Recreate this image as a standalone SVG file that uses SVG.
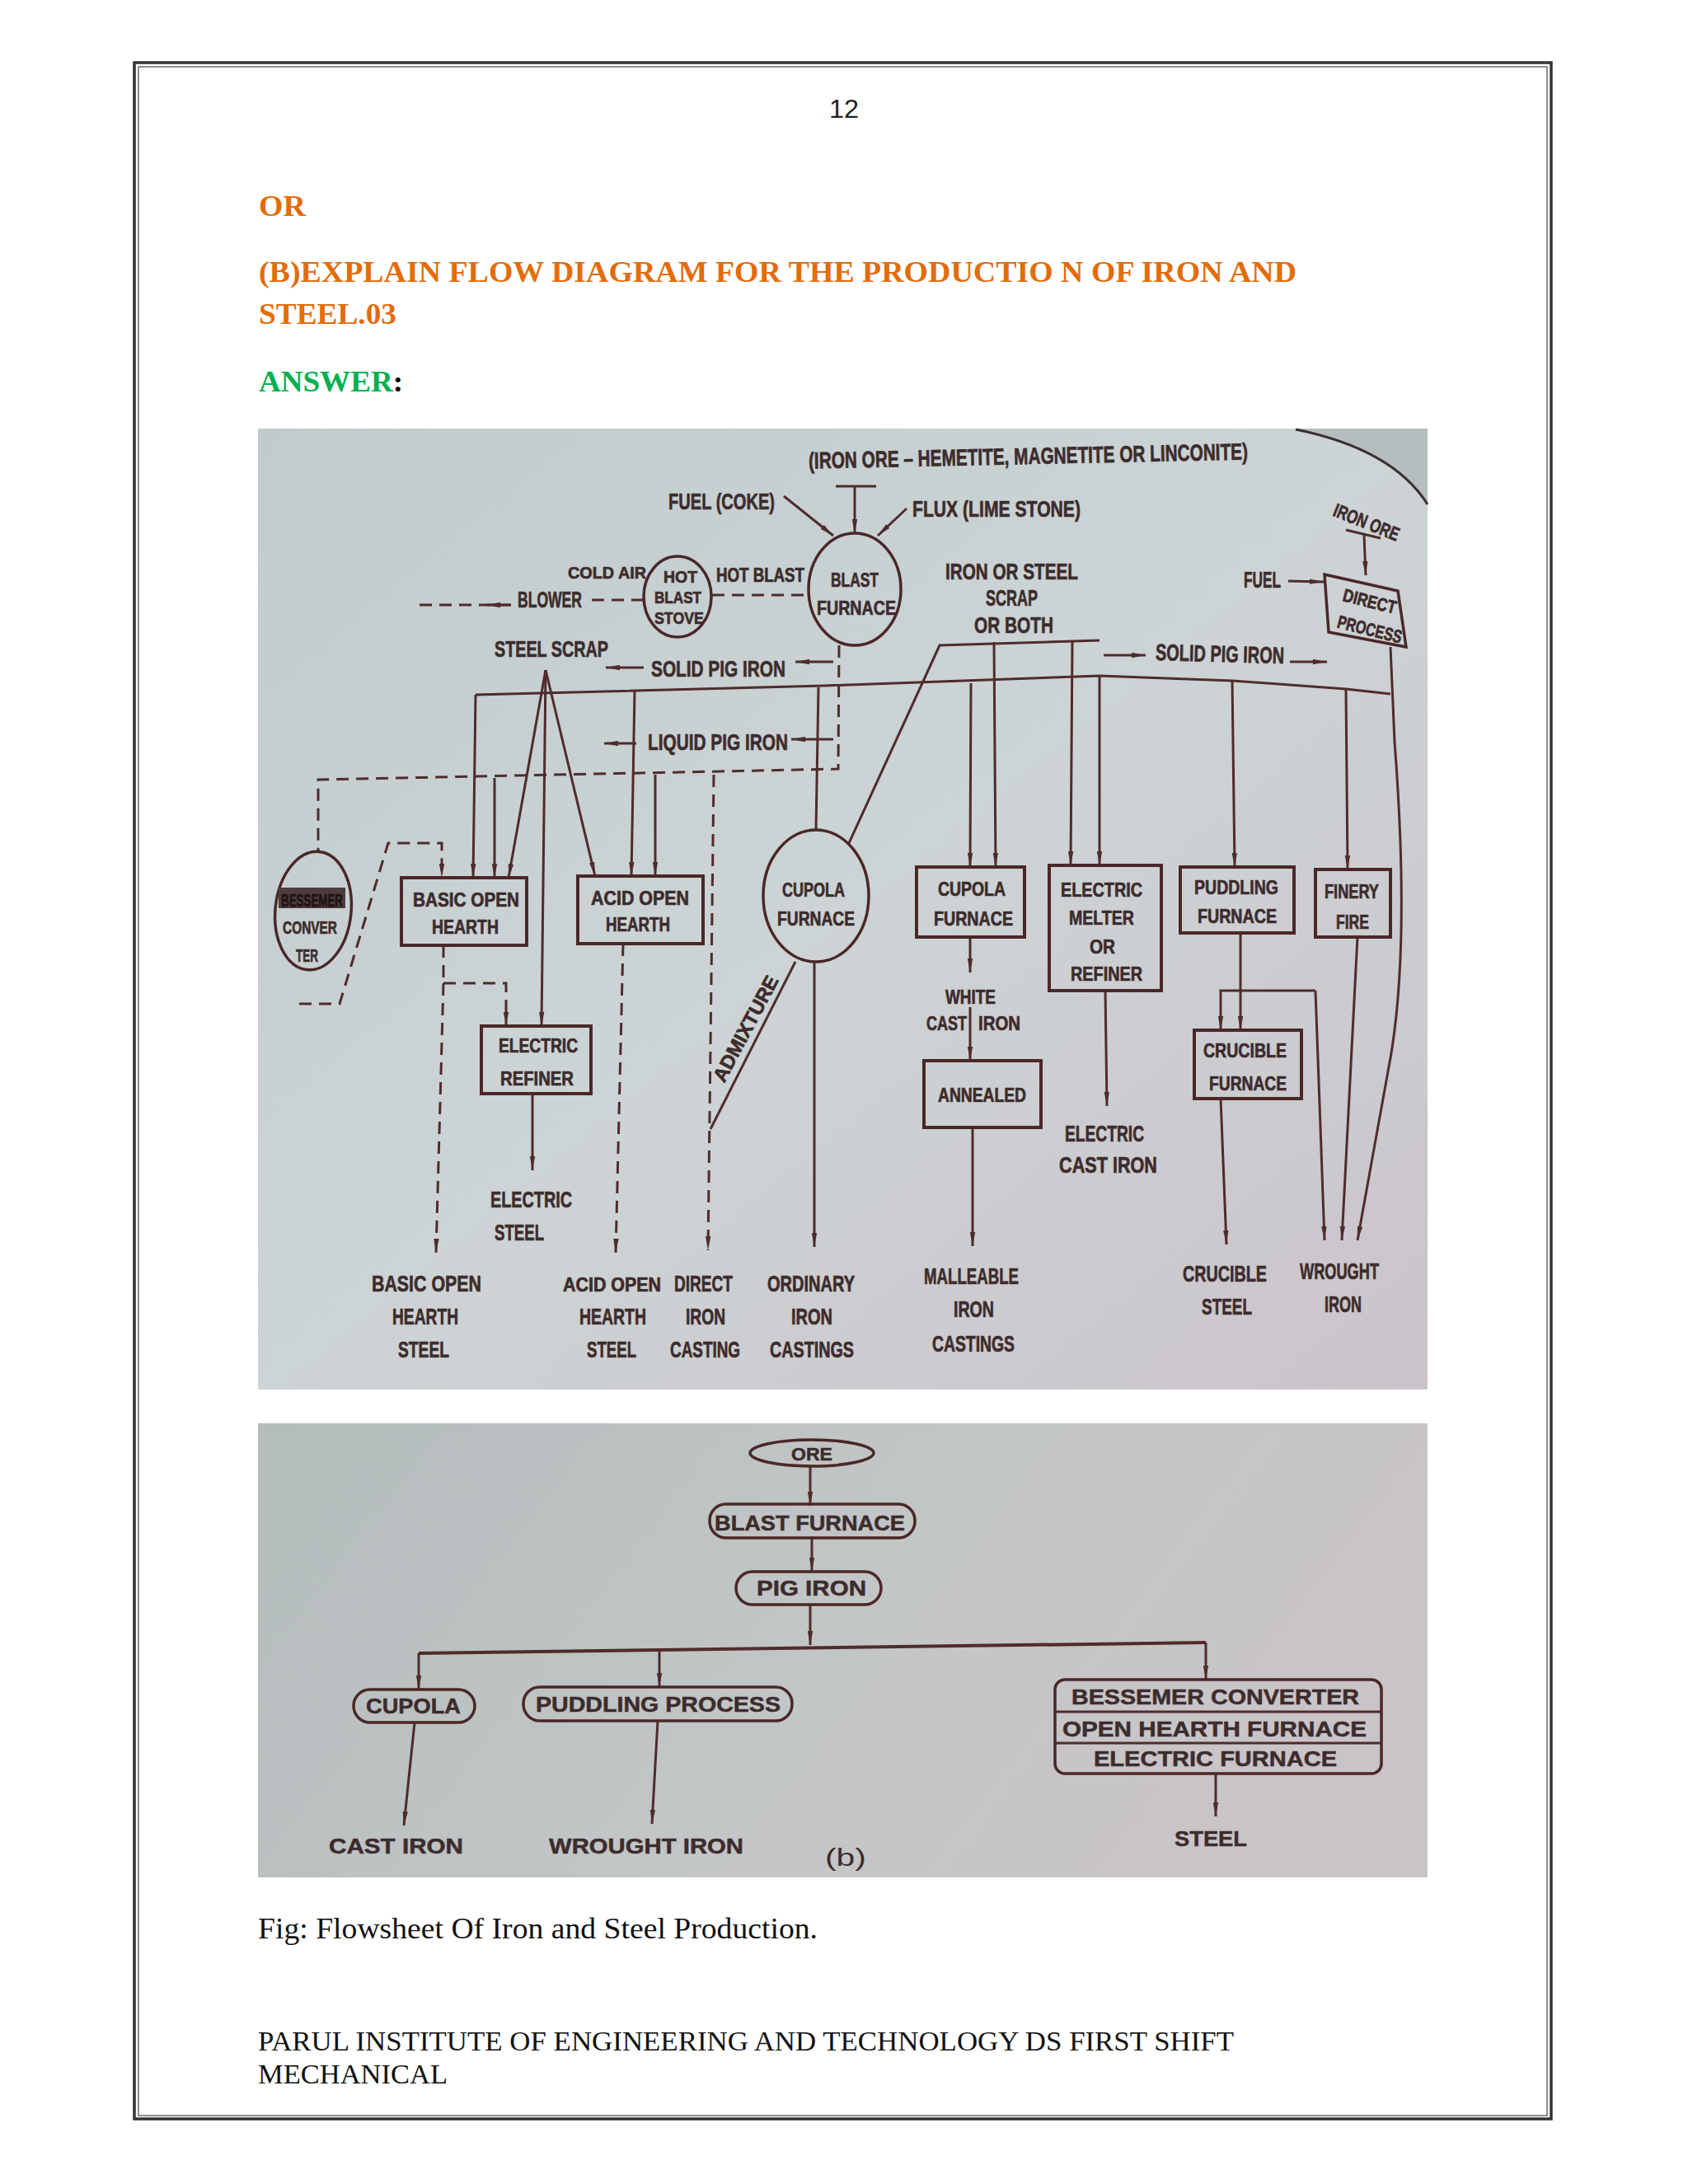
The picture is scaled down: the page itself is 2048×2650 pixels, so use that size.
<svg xmlns="http://www.w3.org/2000/svg" width="2048" height="2650" viewBox="0 0 2048 2650">
<defs>
<linearGradient id="bg1" x1="0" y1="0" x2="1" y2="1">
<stop offset="0" stop-color="#c0cbcd"/><stop offset="0.5" stop-color="#cdd4d5"/><stop offset="1" stop-color="#cbc4ca"/>
</linearGradient>
<linearGradient id="bg2" x1="0" y1="0" x2="1" y2="0.3">
<stop offset="0" stop-color="#b4bcbc"/><stop offset="0.6" stop-color="#c3c6c7"/><stop offset="1" stop-color="#c9c4c8"/>
</linearGradient>
<marker id="ah" viewBox="0 0 16 6" refX="16" refY="3" markerWidth="17" markerHeight="7" markerUnits="userSpaceOnUse" orient="auto">
<path d="M0,0 L16,3 L0,6 z" fill="#4f2c2c"/>
</marker>
<style>
.pg{font-family:"Liberation Serif","Times New Roman",serif;}
.hd{font-weight:bold;fill:#E36C09;font-size:36px;}
.t{font-family:"Liberation Sans",Arial,sans-serif;font-weight:bold;font-size:28px;fill:#3d2c2c;stroke:#3d2c2c;stroke-width:0.7;}
.s{font-size:24px;}
.b{font-family:"Liberation Sans",Arial,sans-serif;font-weight:bold;font-size:26px;fill:#3d2c2c;stroke:#3d2c2c;stroke-width:0.5;}
.ln{fill:none;stroke:#4f2c2c;stroke-width:3;}
.ar{marker-end:url(#ah);}
.da{stroke-dasharray:15 9;}
.bx{fill:none;stroke:#4a2828;stroke-width:4;}
.bx2{fill:none;stroke:#4a2828;stroke-width:3.5;}
</style>
</defs>
<rect width="2048" height="2650" fill="#ffffff"/>
<rect x="163" y="76" width="1719" height="2495" fill="none" stroke="#333" stroke-width="3.5"/>
<rect x="168" y="81" width="1709" height="2486" fill="none" stroke="#444" stroke-width="1.2"/>
<text x="1006" y="143" font-family="Liberation Sans,Arial,sans-serif" font-size="32" textLength="36" lengthAdjust="spacingAndGlyphs" fill="#222">12</text>
<text class="pg hd" x="314" y="262" textLength="57" lengthAdjust="spacingAndGlyphs">OR</text>
<text class="pg hd" x="314" y="342" textLength="1259" lengthAdjust="spacingAndGlyphs">(B)EXPLAIN FLOW DIAGRAM FOR THE PRODUCTIO N OF IRON AND</text>
<text class="pg hd" x="314" y="393" textLength="167" lengthAdjust="spacingAndGlyphs">STEEL.03</text>
<text class="pg" x="314" y="475" font-size="36" font-weight="bold" textLength="175" lengthAdjust="spacingAndGlyphs"><tspan fill="#00B050">ANSWER</tspan><tspan fill="#000">:</tspan></text>

<!-- top photo -->
<rect x="313" y="520" width="1419" height="1166" fill="url(#bg1)"/>
<path d="M1572,520 Q1690,543 1732,612 V520 z" fill="#b6bdbf"/>
<path d="M1572,521 Q1690,545 1732,612" fill="none" stroke="#3a3030" stroke-width="3"/>

<g id="connectors">
<path class="ln" d="M1014,590 H1063"/>
<path class="ln ar" d="M1037,590 V647"/>
<path class="ln ar" d="M951,602 L1011,650"/>
<path class="ln ar" d="M1100,617 L1065,650"/>
<path class="ln ar" d="M1563,705 L1606,706"/>
<path class="ln" d="M1633,643 L1675,653"/>
<path class="ln ar" d="M1655,649 L1657,698"/>
<path class="ln da" d="M864,722 H981"/>
<path class="ln da" d="M781,728 H712"/>
<path class="ln da" d="M620,734 H506"/>
<path class="ln ar" d="M620,734 L590,734"/>
<path class="ln da" d="M1018,783 L1017,933 L386,946 L386,1032"/>
<path class="ln ar" d="M781,810 H735"/>
<path class="ln ar" d="M1011,803 H965"/>
<path class="ln ar" d="M772,902 H733"/>
<path class="ln ar" d="M1011,897 H960"/>
<path class="ln" d="M577,843 L1000,832 L1334,820 L1495,826 L1633,836 L1687,842"/>
<path class="ln ar" d="M577,843 L574,1065"/>
<path class="ln ar" d="M662,813 L617,1065"/>
<path class="ln ar" d="M662,813 L657,1245"/>
<path class="ln ar" d="M662,813 L722,1063"/>
<path class="ln ar" d="M600,944 V1065"/>
<path class="ln ar" d="M770,838 L766,1063"/>
<path class="ln ar" d="M795,940 V1063"/>
<path class="ln da ar" d="M363,1218 H412 L471,1023 H536 V1065"/>
<path class="ln da" d="M538,1147 V1193"/>
<path class="ln da ar" d="M538,1193 H614 V1245"/>
<path class="ln da ar" d="M538,1193 L529,1520"/>
<path class="ln ar" d="M646,1327 V1420"/>
<path class="ln da ar" d="M756,1145 L747,1520"/>
<path class="ln da ar" d="M866,940 L859,1517"/>
<path class="ln" d="M965,1167 L862,1370"/>
<path class="ln" d="M993,834 L990,1007"/>
<path class="ln ar" d="M988,1167 V1513"/>
<path class="ln" d="M1030,1023 L1140,783 L1334,777"/>
<path class="ln ar" d="M1178,829 L1177,1052"/>
<path class="ln ar" d="M1206,779 L1208,1052"/>
<path class="ln ar" d="M1301,778 L1299,1050"/>
<path class="ln ar" d="M1334,820 V1050"/>
<path class="ln ar" d="M1495,826 L1498,1052"/>
<path class="ln ar" d="M1633,836 L1635,1055"/>
<path class="ln ar" d="M1687,785 L1692,900 Q1712,1160 1684,1300 L1647,1505"/>
<path class="ln ar" d="M1339,795 H1390"/>
<path class="ln ar" d="M1565,803 H1610"/>
<path class="ln ar" d="M1177,1137 V1180"/>
<path class="ln ar" d="M1177,1222 V1287"/>
<path class="ln ar" d="M1180,1368 V1512"/>
<path class="ln ar" d="M1341,1202 L1343,1342"/>
<path class="ln ar" d="M1505,1132 V1250"/>
<path class="ln ar" d="M1596,1202 H1481 V1250"/>
<path class="ln ar" d="M1596,1202 L1607,1505"/>
<path class="ln ar" d="M1647,1137 L1628,1505"/>
<path class="ln ar" d="M1481,1333 L1488,1510"/>
</g>

<g id="iron-ore-label"><text class="t" x="981" y="563" textLength="533" lengthAdjust="spacingAndGlyphs" transform="rotate(-1.2 1250 556)">(IRON ORE – HEMETITE, MAGNETITE OR LINCONITE)</text></g>
<g id="fuel-coke"><text class="t" x="811" y="618" textLength="129" lengthAdjust="spacingAndGlyphs">FUEL (COKE)</text></g>
<g id="flux"><text class="t" x="1107" y="627" textLength="204" lengthAdjust="spacingAndGlyphs">FLUX (LIME STONE)</text></g>
<g id="blast-furnace">
<ellipse cx="1037" cy="715" rx="56" ry="68" class="bx2"/>
<text class="t s" x="1008" y="712" textLength="58" lengthAdjust="spacingAndGlyphs">BLAST</text>
<text class="t s" x="991" y="746" textLength="96" lengthAdjust="spacingAndGlyphs">FURNACE</text>
</g>
<g id="cold-air"><text class="t" style="font-size:21px" x="689" y="702" textLength="95" lengthAdjust="spacingAndGlyphs">COLD AIR</text></g>
<g id="hot-blast-stove">
<ellipse cx="822" cy="724" rx="41" ry="49" class="bx2"/>
<text class="t" style="font-size:21px" x="805" y="707" textLength="41" lengthAdjust="spacingAndGlyphs">HOT</text>
<text class="t" style="font-size:21px" x="794" y="732" textLength="57" lengthAdjust="spacingAndGlyphs">BLAST</text>
<text class="t" style="font-size:21px" x="794" y="757" textLength="60" lengthAdjust="spacingAndGlyphs">STOVE</text>
</g>
<g id="hot-blast"><text class="t" style="font-size:23px" x="869" y="706" textLength="107" lengthAdjust="spacingAndGlyphs">HOT BLAST</text></g>
<g id="blower"><text class="t" x="628" y="737" textLength="78" lengthAdjust="spacingAndGlyphs">BLOWER</text></g>
<g id="steel-scrap"><text class="t" x="600" y="797" textLength="138" lengthAdjust="spacingAndGlyphs">STEEL SCRAP</text></g>
<g id="solid-pig-iron-left"><text class="t" x="790" y="821" textLength="163" lengthAdjust="spacingAndGlyphs">SOLID PIG IRON</text></g>
<g id="liquid-pig-iron"><text class="t" x="786" y="910" textLength="170" lengthAdjust="spacingAndGlyphs">LIQUID PIG IRON</text></g>
<g id="iron-steel-scrap">
<text class="t" x="1147" y="703" textLength="161" lengthAdjust="spacingAndGlyphs">IRON OR STEEL</text>
<text class="t" x="1196" y="735" textLength="63" lengthAdjust="spacingAndGlyphs">SCRAP</text>
<text class="t" x="1182" y="768" textLength="96" lengthAdjust="spacingAndGlyphs">OR BOTH</text>
</g>
<g id="solid-pig-iron-right"><text class="t" x="1402" y="803" textLength="156" lengthAdjust="spacingAndGlyphs" transform="rotate(1.5 1480 795)">SOLID PIG IRON</text></g>
<g id="iron-ore-right"><text class="t" style="font-size:23px" text-anchor="middle" transform="translate(1655,641) rotate(22)" textLength="84" lengthAdjust="spacingAndGlyphs">IRON ORE</text></g>
<g id="fuel-right"><text class="t" x="1509" y="713" textLength="45" lengthAdjust="spacingAndGlyphs">FUEL</text></g>
<g id="direct-process">
<polygon points="1607,697 1696,717 1706,785 1612,767" class="bx2"/>
<text class="t" style="font-size:22px" text-anchor="middle" transform="translate(1660,737) rotate(14)" textLength="66" lengthAdjust="spacingAndGlyphs">DIRECT</text>
<text class="t" style="font-size:22px" text-anchor="middle" transform="translate(1660,771) rotate(14)" textLength="80" lengthAdjust="spacingAndGlyphs">PROCESS</text>
</g>
<g id="bessemer-converter">
<ellipse cx="380" cy="1105" rx="46" ry="72" class="bx2" transform="rotate(6 380 1105)"/>
<rect x="338" y="1077" width="81" height="25" fill="#4d3c3c"/>
<text class="t" style="font-size:22px;fill:#1e1414;stroke:#1e1414" x="341" y="1100" textLength="75" lengthAdjust="spacingAndGlyphs">BESSEMER</text>
<text class="t" style="font-size:22px" x="343" y="1133" textLength="66" lengthAdjust="spacingAndGlyphs">CONVER</text>
<text class="t" style="font-size:22px" x="359" y="1167" textLength="27" lengthAdjust="spacingAndGlyphs">TER</text>
</g>
<g id="basic-open-hearth">
<rect x="487" y="1065" width="152" height="82" class="bx"/>
<text class="t s" x="501" y="1100" textLength="129" lengthAdjust="spacingAndGlyphs">BASIC OPEN</text>
<text class="t s" x="524" y="1133" textLength="81" lengthAdjust="spacingAndGlyphs">HEARTH</text>
</g>
<g id="acid-open-hearth">
<rect x="701" y="1063" width="152" height="82" class="bx"/>
<text class="t s" x="717" y="1098" textLength="119" lengthAdjust="spacingAndGlyphs">ACID OPEN</text>
<text class="t s" x="735" y="1130" textLength="78" lengthAdjust="spacingAndGlyphs">HEARTH</text>
</g>
<g id="electric-refiner">
<rect x="584" y="1245" width="133" height="82" class="bx"/>
<text class="t s" x="605" y="1277" textLength="96" lengthAdjust="spacingAndGlyphs">ELECTRIC</text>
<text class="t s" x="607" y="1317" textLength="89" lengthAdjust="spacingAndGlyphs">REFINER</text>
</g>
<g id="cupola-furnace-circle">
<ellipse cx="990" cy="1087" rx="64" ry="80" class="bx2"/>
<text class="t s" x="949" y="1088" textLength="76" lengthAdjust="spacingAndGlyphs">CUPOLA</text>
<text class="t s" x="943" y="1123" textLength="94" lengthAdjust="spacingAndGlyphs">FURNACE</text>
</g>
<g id="admixture"><text class="t" style="font-size:24px" text-anchor="middle" transform="translate(912,1252) rotate(-62)" textLength="142" lengthAdjust="spacingAndGlyphs">ADMIXTURE</text></g>
<g id="cupola-furnace-box">
<rect x="1112" y="1052" width="131" height="85" class="bx"/>
<text class="t s" x="1138" y="1087" textLength="82" lengthAdjust="spacingAndGlyphs">CUPOLA</text>
<text class="t s" x="1133" y="1123" textLength="96" lengthAdjust="spacingAndGlyphs">FURNACE</text>
</g>
<g id="white-cast-iron">
<text class="t s" x="1147" y="1218" textLength="61" lengthAdjust="spacingAndGlyphs">WHITE</text>
<text class="t s" x="1124" y="1250" textLength="49" lengthAdjust="spacingAndGlyphs">CAST</text>
<text class="t s" x="1187" y="1250" textLength="51" lengthAdjust="spacingAndGlyphs">IRON</text>
</g>
<g id="annealed">
<rect x="1121" y="1287" width="142" height="81" class="bx"/>
<text class="t s" x="1138" y="1337" textLength="107" lengthAdjust="spacingAndGlyphs">ANNEALED</text>
</g>
<g id="electric-melter">
<rect x="1273" y="1050" width="136" height="152" class="bx"/>
<text class="t s" x="1287" y="1088" textLength="99" lengthAdjust="spacingAndGlyphs">ELECTRIC</text>
<text class="t s" x="1297" y="1122" textLength="79" lengthAdjust="spacingAndGlyphs">MELTER</text>
<text class="t s" x="1322" y="1157" textLength="31" lengthAdjust="spacingAndGlyphs">OR</text>
<text class="t s" x="1299" y="1190" textLength="87" lengthAdjust="spacingAndGlyphs">REFINER</text>
</g>
<g id="puddling-furnace">
<rect x="1432" y="1052" width="138" height="80" class="bx"/>
<text class="t s" x="1449" y="1085" textLength="102" lengthAdjust="spacingAndGlyphs">PUDDLING</text>
<text class="t s" x="1453" y="1120" textLength="96" lengthAdjust="spacingAndGlyphs">FURNACE</text>
</g>
<g id="finery-fire">
<rect x="1596" y="1055" width="91" height="82" class="bx"/>
<text class="t s" x="1607" y="1090" textLength="66" lengthAdjust="spacingAndGlyphs">FINERY</text>
<text class="t s" x="1621" y="1127" textLength="40" lengthAdjust="spacingAndGlyphs">FIRE</text>
</g>
<g id="crucible-furnace">
<rect x="1449" y="1250" width="130" height="83" class="bx"/>
<text class="t s" x="1460" y="1283" textLength="101" lengthAdjust="spacingAndGlyphs">CRUCIBLE</text>
<text class="t s" x="1467" y="1323" textLength="94" lengthAdjust="spacingAndGlyphs">FURNACE</text>
</g>
<g id="out-basic-oh-steel">
<text class="t" x="451" y="1567" textLength="133" lengthAdjust="spacingAndGlyphs">BASIC OPEN</text>
<text class="t" x="476" y="1607" textLength="80" lengthAdjust="spacingAndGlyphs">HEARTH</text>
<text class="t" x="483" y="1647" textLength="62" lengthAdjust="spacingAndGlyphs">STEEL</text>
</g>
<g id="out-electric-steel">
<text class="t" x="595" y="1465" textLength="99" lengthAdjust="spacingAndGlyphs">ELECTRIC</text>
<text class="t" x="600" y="1505" textLength="60" lengthAdjust="spacingAndGlyphs">STEEL</text>
</g>
<g id="out-acid-oh-steel">
<text class="t" style="font-size:23px" x="683" y="1567" textLength="119" lengthAdjust="spacingAndGlyphs">ACID OPEN</text>
<text class="t" x="703" y="1607" textLength="81" lengthAdjust="spacingAndGlyphs">HEARTH</text>
<text class="t" x="712" y="1647" textLength="60" lengthAdjust="spacingAndGlyphs">STEEL</text>
</g>
<g id="out-direct-iron-casting">
<text class="t" x="818" y="1567" textLength="71" lengthAdjust="spacingAndGlyphs">DIRECT</text>
<text class="t" x="832" y="1607" textLength="48" lengthAdjust="spacingAndGlyphs">IRON</text>
<text class="t" x="813" y="1647" textLength="85" lengthAdjust="spacingAndGlyphs">CASTING</text>
</g>
<g id="out-ordinary-iron-castings">
<text class="t" x="931" y="1567" textLength="106" lengthAdjust="spacingAndGlyphs">ORDINARY</text>
<text class="t" x="960" y="1607" textLength="50" lengthAdjust="spacingAndGlyphs">IRON</text>
<text class="t" x="934" y="1647" textLength="102" lengthAdjust="spacingAndGlyphs">CASTINGS</text>
</g>
<g id="out-malleable">
<text class="t" x="1121" y="1558" textLength="115" lengthAdjust="spacingAndGlyphs">MALLEABLE</text>
<text class="t" x="1157" y="1598" textLength="49" lengthAdjust="spacingAndGlyphs">IRON</text>
<text class="t" x="1131" y="1640" textLength="100" lengthAdjust="spacingAndGlyphs">CASTINGS</text>
</g>
<g id="out-electric-cast-iron">
<text class="t" x="1292" y="1385" textLength="96" lengthAdjust="spacingAndGlyphs">ELECTRIC</text>
<text class="t" x="1285" y="1423" textLength="119" lengthAdjust="spacingAndGlyphs">CAST IRON</text>
</g>
<g id="out-crucible-steel">
<text class="t" x="1435" y="1555" textLength="102" lengthAdjust="spacingAndGlyphs">CRUCIBLE</text>
<text class="t" x="1458" y="1595" textLength="61" lengthAdjust="spacingAndGlyphs">STEEL</text>
</g>
<g id="out-wrought-iron">
<text class="t" x="1577" y="1552" textLength="96" lengthAdjust="spacingAndGlyphs">WROUGHT</text>
<text class="t" x="1607" y="1592" textLength="45" lengthAdjust="spacingAndGlyphs">IRON</text>
</g>

<!-- bottom photo -->
<rect x="313" y="1727" width="1419" height="551" fill="url(#bg2)"/>
<g id="connectors-b">
<path class="ln ar" d="M983,1779 V1827"/>
<path class="ln ar" d="M985,1866 V1907"/>
<path class="ln ar" d="M983,1947 V1996"/>
<path class="ln" style="stroke-width:4" d="M508,2006 L1463,1993"/>
<path class="ln ar" d="M508,2006 V2050"/>
<path class="ln ar" d="M800,2002 V2047"/>
<path class="ln ar" d="M1463,1993 V2038"/>
<path class="ln ar" d="M503,2090 L490,2215"/>
<path class="ln ar" d="M798,2088 L791,2213"/>
<path class="ln ar" d="M1475,2152 V2204"/>
</g>
<g id="b-ore">
<ellipse cx="985" cy="1763" rx="75" ry="16" class="bx2"/>
<text class="b" style="font-size:22px" x="960" y="1772" textLength="50" lengthAdjust="spacingAndGlyphs">ORE</text>
</g>
<g id="b-blast-furnace">
<rect x="861" y="1825" width="249" height="41" rx="20" class="bx2"/>
<text class="b" x="867" y="1857" textLength="231" lengthAdjust="spacingAndGlyphs">BLAST FURNACE</text>
</g>
<g id="b-pig-iron">
<rect x="893" y="1907" width="176" height="40" rx="20" class="bx2"/>
<text class="b" x="918" y="1936" textLength="133" lengthAdjust="spacingAndGlyphs">PIG IRON</text>
</g>
<g id="b-cupola">
<rect x="429" y="2050" width="147" height="40" rx="20" class="bx2"/>
<text class="b" x="444" y="2079" textLength="115" lengthAdjust="spacingAndGlyphs">CUPOLA</text>
</g>
<g id="b-puddling">
<rect x="635" y="2047" width="326" height="41" rx="20" class="bx2"/>
<text class="b" x="650" y="2077" textLength="297" lengthAdjust="spacingAndGlyphs">PUDDLING PROCESS</text>
</g>
<g id="b-steel-processes">
<rect x="1280" y="2038" width="396" height="114" rx="12" class="bx2"/>
<line x1="1280" y1="2077" x2="1676" y2="2077" class="ln"/>
<line x1="1280" y1="2115" x2="1676" y2="2115" class="ln"/>
<text class="b" x="1300" y="2068" textLength="349" lengthAdjust="spacingAndGlyphs">BESSEMER CONVERTER</text>
<text class="b" x="1289" y="2107" textLength="369" lengthAdjust="spacingAndGlyphs">OPEN HEARTH FURNACE</text>
<text class="b" x="1327" y="2143" textLength="295" lengthAdjust="spacingAndGlyphs">ELECTRIC FURNACE</text>
</g>
<g id="b-cast-iron"><text class="b" x="399" y="2249" textLength="163" lengthAdjust="spacingAndGlyphs">CAST IRON</text></g>
<g id="b-wrought-iron"><text class="b" x="666" y="2249" textLength="236" lengthAdjust="spacingAndGlyphs">WROUGHT IRON</text></g>
<g id="b-steel"><text class="b" x="1425" y="2240" textLength="88" lengthAdjust="spacingAndGlyphs">STEEL</text></g>
<text x="1001" y="2264" font-family="Liberation Sans,Arial,sans-serif" font-size="30" fill="#3d2c2c" textLength="50" lengthAdjust="spacingAndGlyphs">(b)</text>

<text class="pg" x="313" y="2352" font-size="36" fill="#111" textLength="679" lengthAdjust="spacingAndGlyphs">Fig: Flowsheet Of Iron and Steel Production.</text>
<text class="pg" x="313" y="2488" font-size="34" fill="#111" textLength="1184" lengthAdjust="spacingAndGlyphs">PARUL INSTITUTE OF ENGINEERING AND TECHNOLOGY DS FIRST SHIFT</text>
<text class="pg" x="313" y="2528" font-size="34" fill="#111" textLength="230" lengthAdjust="spacingAndGlyphs">MECHANICAL</text>
</svg>
